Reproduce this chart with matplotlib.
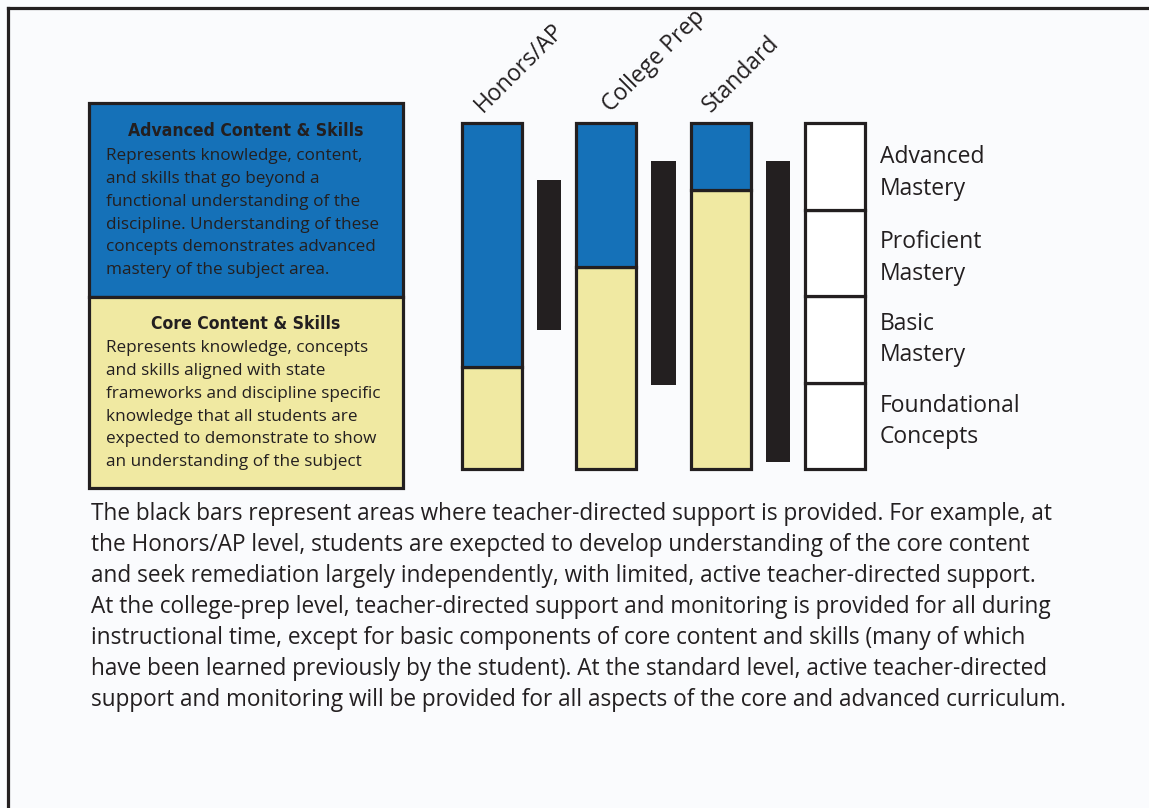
import matplotlib
matplotlib.use("Agg")
import matplotlib.pyplot as plt
from matplotlib.patches import Rectangle
from matplotlib.lines import Line2D

# ================= DATA =================
levels = ["Honors/AP", "College Prep", "Standard"]
core_top = [1.18, 2.34, 3.23]          # top of core (yellow) part, in mastery levels (0-4)
support_bottom = [1.61, 0.97, 0.08]    # black bars: teacher-directed support
support_top = [3.34, 3.56, 3.56]
scale_labels = ["Foundational\nConcepts", "Basic\nMastery",
                "Proficient\nMastery", "Advanced\nMastery"]
n_levels = 4

adv_title = "Advanced Content & Skills"
adv_text = ("Represents knowledge, content,\nand skills that go beyond a\n"
            "functional understanding of the\ndiscipline. Understanding of these\n"
            "concepts demonstrates advanced\nmastery of the subject area.")
core_title = "Core Content & Skills"
core_text = ("Represents knowledge, concepts\nand skills aligned with state\n"
             "frameworks and discipline specific\nknowledge that all students are\n"
             "expected to demonstrate to show\nan understanding of the subject")
note = ("The black bars represent areas where teacher-directed support is provided. For example, at\n"
        "the Honors/AP level, students are exepcted to develop understanding of the core content\n"
        "and seek remediation largely independently, with limited, active teacher-directed support.\n"
        "At the college-prep level, teacher-directed support and monitoring is provided for all during\n"
        "instructional time, except for basic components of core content and skills (many of which\n"
        "have been learned previously by the student). At the standard level, active teacher-directed\n"
        "support and monitoring will be provided for all aspects of the core and advanced curriculum.")

# ================= STYLE =================
BLUE = "#1571b8"
YELLOW = "#f0e9a2"
DARK = "#231f20"
BG = "#fafbfd"
FONT = ["Open Sans", "DejaVu Sans"]
label_shift = [-0.08, 0.04, -0.085]        # nudges for the rotated column labels
scale_nudge = [0.05, -0.005, -0.06, -0.078]  # nudges for the scale labels

W, H = 1149, 808
fig = plt.figure(figsize=(W / 100, H / 100), dpi=100, facecolor=BG)

# full-figure layer in pixel units for the page furniture
ax = fig.add_axes([0, 0, 1, 1])
ax.set_xlim(0, W)
ax.set_ylim(H, 0)
ax.axis("off")
ax.set_facecolor(BG)

# page frame (left + top)
ax.add_line(Line2D([7.5, 7.5], [H, 7.5], color=DARK, lw=2.3))
ax.add_line(Line2D([7.5, W], [7.5, 7.5], color=DARK, lw=2.3))

# legend boxes
ax.add_patch(Rectangle((89, 103), 314, 194, facecolor=BLUE, edgecolor=DARK, lw=2.3))
ax.add_patch(Rectangle((89, 297), 314, 191, facecolor=YELLOW, edgecolor=DARK, lw=2.3))
ax.text(246, 131, adv_title, ha="center", va="center", fontsize=12.6, fontweight="bold",
        family="DejaVu Sans", fontstretch="condensed", color=DARK)
ax.text(106, 148, adv_text, ha="left", va="top", fontsize=12.3, family=FONT,
        color=DARK, linespacing=1.57)
ax.text(246, 324, core_title, ha="center", va="center", fontsize=12.6, fontweight="bold",
        family="DejaVu Sans", fontstretch="condensed", color=DARK)
ax.text(106, 340, core_text, ha="left", va="top", fontsize=12.3, family=FONT,
        color=DARK, linespacing=1.57)

# explanatory note
ax.text(91, 502, note, ha="left", va="top", fontsize=16.3, family=FONT,
        color=DARK, linespacing=1.39)

# ================= CHART =================
bx = fig.add_axes([462 / W, (H - 469) / H, 403 / W, 346 / H])
bx.axis("off")
bx.set_xlim(-0.26, 3.26)
bx.set_ylim(0, n_levels)

x = list(range(len(levels)))
adv_h = [n_levels - c for c in core_top]
sup_h = [t - b for t, b in zip(support_top, support_bottom)]

bx.bar(x, core_top, width=0.52, color=YELLOW, edgecolor=DARK, lw=2.3, clip_on=False)
bx.bar(x, adv_h, bottom=core_top, width=0.52, color=BLUE, edgecolor=DARK, lw=2.3,
       clip_on=False)
bx.bar([i + 0.5 for i in x], sup_h, bottom=support_bottom, width=0.21, color=DARK,
       lw=0, clip_on=False)

# mastery scale column
sx = len(levels)
bx.bar([sx] * n_levels, [1] * n_levels, bottom=list(range(n_levels)), width=0.52,
       color="white", edgecolor=DARK, lw=2.3, clip_on=False)
for i, lab in enumerate(scale_labels):
    bx.text(sx + 0.39, i + 0.5 + scale_nudge[i], lab, ha="left", va="center",
            fontsize=16.5, family=FONT, color=DARK, linespacing=1.4, clip_on=False)

for i, lab in enumerate(levels):
    bx.text(i + label_shift[i], n_levels + 0.12, lab, rotation=45, rotation_mode="anchor",
            ha="left", va="baseline", fontsize=16.5, family=FONT, color=DARK,
            clip_on=False)

fig.savefig("out.png", dpi=100, facecolor=BG)
